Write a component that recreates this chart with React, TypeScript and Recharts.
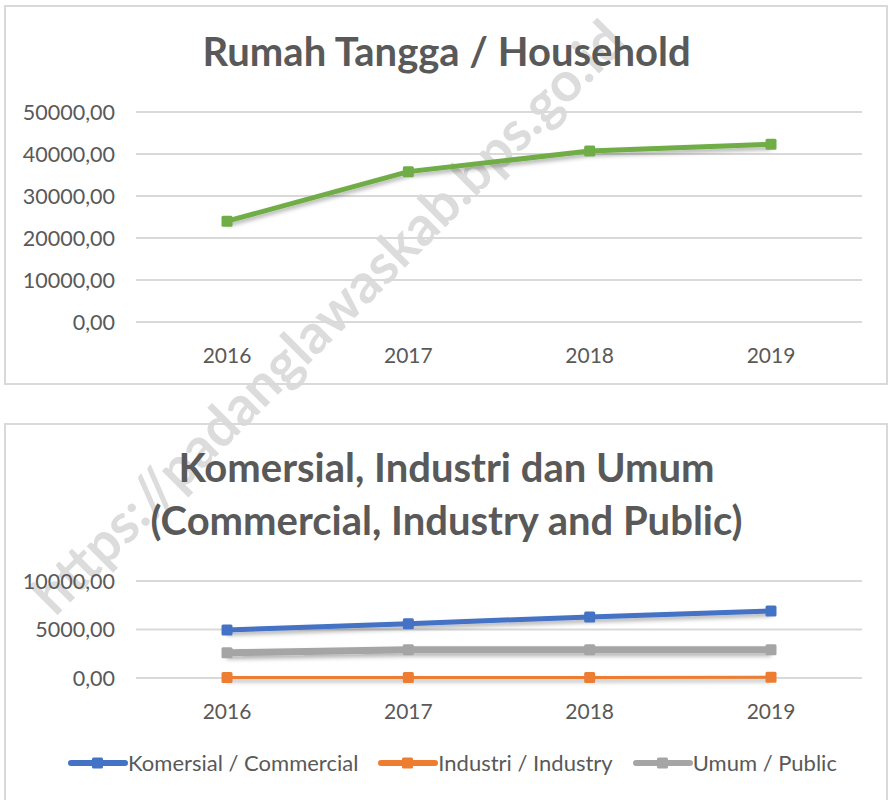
import React from 'react';
import { CartesianGrid, Line, LineChart, XAxis, YAxis } from 'recharts';

// values
const years = ['2016', '2017', '2018', '2019'];
const householdValues = [24000, 35800, 40700, 42300];
const commercialValues = [4950, 5600, 6300, 6900];
const industryValues = [40, 50, 60, 70];
const publicValues = [2600, 2900, 2900, 2900];
const householdTicks = [0, 10000, 20000, 30000, 40000, 50000];
const otherTicks = [0, 5000, 10000];

const series = [
  { key: 'commercial', name: 'Komersial / Commercial', color: '#4472C4', width: 5 },
  { key: 'industry', name: 'Industri / Industry', color: '#ED7D31', width: 3 },
  { key: 'public', name: 'Umum / Public', color: '#A5A5A5', width: 7 },
];

const householdData = years.map((year, i) => ({ year, household: householdValues[i] }));
const otherData = years.map((year, i) => ({
  year,
  commercial: commercialValues[i],
  industry: industryValues[i],
  public: publicValues[i],
}));

const FONT = 'Lato, "Open Sans", sans-serif';
const TEXT = '#595959';
const GRID = '#d9d9d9';

const fmt = (v: number) => v.toFixed(2).replace('.', ',');

const squareDot = (color: string) => (props: any) => {
  const { cx, cy, index } = props;
  if (cx == null || cy == null) return <g key={index} />;
  return <rect key={index} x={cx - 5.5} y={cy - 5.5} width={11} height={11} rx={1.5} fill={color} />;
};

const yTick = { fill: TEXT, fontSize: 21.5, fontFamily: FONT };
const xTick = { fill: TEXT, fontSize: 21, fontFamily: FONT };

const titleStyle: React.CSSProperties = {
  position: 'absolute',
  left: 0,
  width: 893,
  textAlign: 'center',
  fontFamily: FONT,
  fontWeight: 700,
  fontSize: 40,
  color: TEXT,
};

const boxStyle: React.CSSProperties = {
  position: 'absolute',
  left: 4,
  width: 880,
  border: `2px solid ${GRID}`,
  boxSizing: 'content-box',
};

export default function App() {
  return (
    <div style={{ position: 'absolute', top: 0, left: 0, width: 893, height: 800, overflow: 'hidden', background: '#fff' }}>
      <style>{`.shadow-line { filter: url(#line-shadow); }`}</style>
      <svg width={0} height={0} style={{ position: 'absolute' }}>
        <defs>
          <filter id="line-shadow" filterUnits="userSpaceOnUse" x={-50} y={-50} width={1000} height={1000}>
            <feDropShadow dx="0" dy="3" stdDeviation="2" floodColor="#000" floodOpacity="0.3" />
          </filter>
        </defs>
      </svg>

      {/* watermark, behind the charts */}
      <div
        style={{
          position: 'absolute',
          left: 327,
          top: 316,
          transform: 'translate(-50%, -50%) rotate(-45deg)',
          whiteSpace: 'nowrap',
          fontFamily: FONT,
          fontWeight: 700,
          fontSize: 55,
          color: '#dcdcdc',
        }}
      >
        https://padanglawaskab.bps.go.id
      </div>

      <div style={{ ...boxStyle, top: 5, height: 376 }} />
      <div style={{ ...boxStyle, top: 423, height: 400 }} />

      <div style={{ ...titleStyle, top: 27, lineHeight: '48px' }}>Rumah Tangga / Household</div>

      <div style={{ position: 'absolute', top: 0, left: 0 }}>
        <LineChart width={893} height={390} data={householdData} margin={{ top: 112, right: 31, bottom: 0, left: 0 }}>
          <CartesianGrid vertical={false} stroke={GRID} strokeWidth={2} />
          <XAxis
            dataKey="year"
            axisLine={false}
            tickLine={false}
            tickSize={6}
            tickMargin={20}
            height={68}
            padding={{ left: 91, right: 91 }}
            tick={xTick}
          />
          <YAxis
            domain={[0, 50000]}
            ticks={householdTicks}
            tickFormatter={fmt}
            axisLine={false}
            tickLine={false}
            tickSize={6}
            tickMargin={15}
            width={136}
            tick={yTick}
          />
          <Line
            dataKey="household"
            stroke="#70AD47"
            strokeWidth={5}
            dot={squareDot('#70AD47')}
            activeDot={false}
            className="shadow-line"
            isAnimationActive={false}
          />
        </LineChart>
      </div>

      <div style={{ ...titleStyle, top: 441, lineHeight: '53px' }}>
        Komersial, Industri dan Umum
        <br />
        (Commercial, Industry and Public)
      </div>

      <div style={{ position: 'absolute', top: 400, left: 0 }}>
        <LineChart width={893} height={400} data={otherData} margin={{ top: 181, right: 31, bottom: 54, left: 0 }}>
          <CartesianGrid vertical={false} stroke={GRID} strokeWidth={2} />
          <XAxis
            dataKey="year"
            axisLine={false}
            tickLine={false}
            tickSize={6}
            tickMargin={20}
            height={68}
            padding={{ left: 91, right: 91 }}
            tick={xTick}
          />
          <YAxis
            domain={[0, 10000]}
            ticks={otherTicks}
            tickFormatter={fmt}
            axisLine={false}
            tickLine={false}
            tickSize={6}
            tickMargin={15}
            width={136}
            tick={yTick}
          />
          {series.map((s) => (
            <Line
              key={s.key}
              dataKey={s.key}
              name={s.name}
              stroke={s.color}
              strokeWidth={s.width}
              dot={squareDot(s.color)}
              activeDot={false}
              className="shadow-line"
              isAnimationActive={false}
            />
          ))}
        </LineChart>
      </div>

      {/* legend */}
      <div
        style={{
          position: 'absolute',
          top: 750,
          left: 6,
          width: 893,
          display: 'flex',
          justifyContent: 'center',
          gap: 20,
          fontFamily: FONT,
          fontSize: 22,
          color: TEXT,
        }}
      >
        {series.map((s) => (
          <div key={s.key} style={{ display: 'flex', alignItems: 'center' }}>
            <svg width={60} height={26}>
              <line x1={3} y1={13} x2={57} y2={13} stroke={s.color} strokeWidth={6} strokeLinecap="round" />
              <rect x={24} y={7.5} width={11} height={11} rx={1.5} fill={s.color} />
            </svg>
            <span style={{ lineHeight: '26px' }}>{s.name}</span>
          </div>
        ))}
      </div>
    </div>
  );
}
